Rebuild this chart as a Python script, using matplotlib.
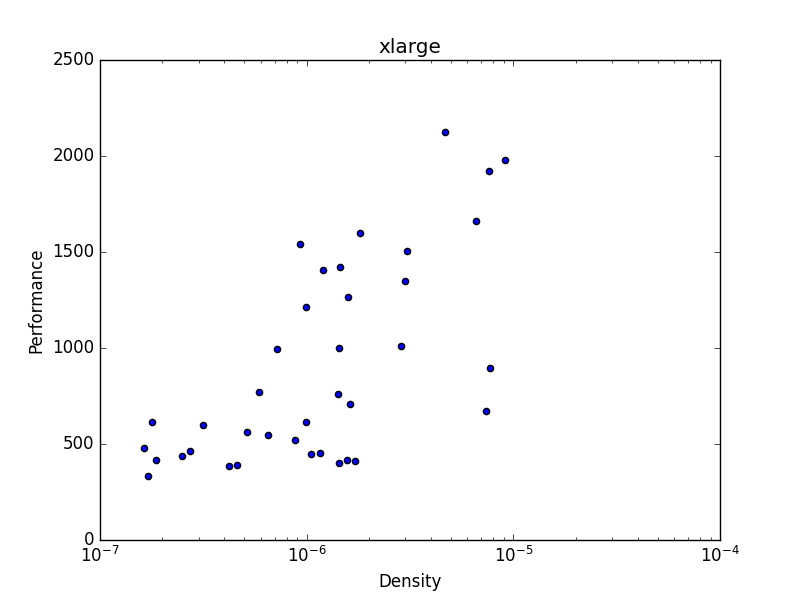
import matplotlib
matplotlib.use('Agg')
import matplotlib.pyplot as plt

plt.style.use('classic')

density = [1.638e-7, 1.713e-7, 1.791e-7, 1.860e-7, 2.502e-7, 2.735e-7, 3.150e-7,
           4.223e-7, 4.586e-7, 5.162e-7, 5.881e-7, 6.500e-7, 7.210e-7, 8.81e-7,
           9.316e-7, 9.96e-7, 9.96e-7, 1.053e-6, 1.164e-6, 1.204e-6, 1.422e-6,
           1.439e-6, 1.439e-6, 1.455e-6, 1.573e-6, 1.589e-6, 1.626e-6, 1.719e-6,
           1.818e-6, 2.871e-6, 3.000e-6, 3.069e-6, 4.688e-6, 6.620e-6, 7.396e-6,
           7.654e-6, 7.71e-6, 9.14e-6]
performance = [478, 332, 613, 415, 436, 462, 599,
               384, 389, 561, 769, 547, 995, 519,
               1540, 1212, 613, 446, 452, 1405, 759,
               399, 998, 1420, 417, 1264, 707, 411,
               1597, 1009, 1347, 1504, 2123, 1660, 670,
               1920, 894, 1978]

fig, ax = plt.subplots(figsize=(8, 6), dpi=100)
ax.scatter(density, performance, c='b', s=20)
ax.set_xscale('log')
ax.set_xlim(1e-7, 1e-4)
ax.set_ylim(0, 2500)
ax.set_xlabel('Density')
ax.set_ylabel('Performance')
ax.set_title('xlarge')
fig.savefig('out.png', dpi=100)
